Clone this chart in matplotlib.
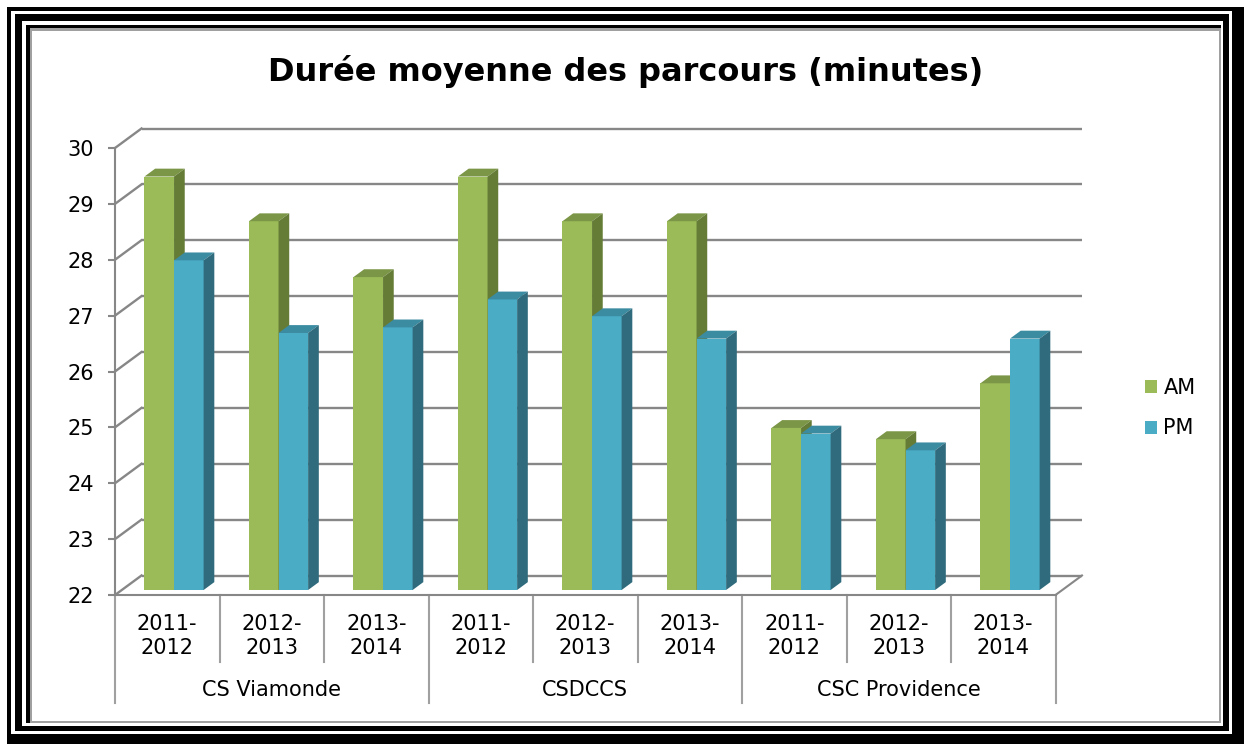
import matplotlib
matplotlib.use("Agg")
import matplotlib.pyplot as plt
from matplotlib.patches import Rectangle, Polygon, Patch

# ---------------- data ----------------
groups = ["CS Viamonde", "CSDCCS", "CSC Providence"]
years = ["2011-\n2012", "2012-\n2013", "2013-\n2014"]
am_values = [29.4, 28.6, 27.6, 29.4, 28.6, 28.6, 24.9, 24.7, 25.7]
pm_values = [27.9, 26.6, 26.7, 27.2, 26.9, 26.5, 24.8, 24.5, 26.5]
series_names = ["AM", "PM"]
y_ticks = [22, 23, 24, 25, 26, 27, 28, 29, 30]
title = "Durée moyenne des parcours (minutes)"

# ---------------- style ----------------
W, H = 1244, 744
plt.rcParams['font.family'] = ['DejaVu Sans']
front_cols = ["#9BBB59", "#4BACC6"]
top_cols = ["#7B9646", "#3B8BA1"]
side_cols = ["#657C37", "#2F6B7C"]
grid_col = "#878787"

fig = plt.figure(figsize=(W / 100, H / 100), dpi=100)
fig.patch.set_facecolor("white")

# ---- decorative frame (pixel coords) ----
def frect(x0, y0, x1, y1, color):
    fig.patches.append(Rectangle((x0 / W, 1 - y1 / H), (x1 - x0) / W, (y1 - y0) / H,
                                 transform=fig.transFigure, facecolor=color,
                                 edgecolor="none", zorder=-10))

frect(7, 7, 1244, 744, "black")
frect(11, 11, 1232, 734, "white")
frect(15, 14, 1229, 731, "black")
frect(22, 21, 1223, 726, "white")
frect(26, 25, 1221, 723, "black")
frect(30, 28, 1221, 723, "#A0A0A0")
frect(32, 31, 1219, 721, "white")

# ---- axes = front plane of the 3D box ----
x0p, x1p, y22p, y30p = 115, 1055.5, 595, 148
ax = fig.add_axes([x0p / W, (H - y22p) / H, (x1p - x0p) / W, (y22p - y30p) / H])
ax.set_zorder(5)
ax.set_facecolor("none")
ncat = len(am_values)
ax.set_xlim(0, ncat)
ax.set_ylim(y_ticks[0], y_ticks[-1])
for s in ["top", "right"]:
    ax.spines[s].set_visible(False)
for s in ["left", "bottom"]:
    ax.spines[s].set_color(grid_col)
    ax.spines[s].set_linewidth(1.5)
ax.set_xticks([])
ax.set_yticks(y_ticks)
ax.tick_params(axis="y", direction="out", length=5, width=1.5, color=grid_col,
               labelsize=15, pad=10, labelcolor="black")

px_per_x = (x1p - x0p) / ncat
px_per_y = (y22p - y30p) / (y_ticks[-1] - y_ticks[0])
Dx = 26.5 / px_per_x      # depth offset in data units
Dy = 19.5 / px_per_y
base = y_ticks[0]

# back wall gridlines + side wall diagonals
for v in y_ticks:
    ax.plot([Dx, ncat + Dx], [v + Dy, v + Dy], color=grid_col, lw=1.7,
            clip_on=False, zorder=1, solid_capstyle="butt")
    ax.plot([0, Dx], [v, v + Dy], color=grid_col, lw=1.7, clip_on=False, zorder=1)
# floor right edge
ax.plot([ncat, ncat + Dx], [base, base + Dy], color=grid_col, lw=1.5, clip_on=False, zorder=1)

# bars
w = 0.283
z0, z1 = 0.256, 0.66
for i in range(ncat):
    for k, vals in enumerate([am_values, pm_values]):
        v = vals[i]
        xl = i + 0.5 - w + k * w
        xr = xl + w
        zo = 3 + i * 2 + k * 0.5
        ax.bar(xl + z0 * Dx, v - base, bottom=base + z0 * Dy, width=w, align="edge",
               color=front_cols[k], edgecolor="none", zorder=zo, clip_on=False)
        top = Polygon([(xl + z0 * Dx, v + z0 * Dy), (xr + z0 * Dx, v + z0 * Dy),
                       (xr + z1 * Dx, v + z1 * Dy), (xl + z1 * Dx, v + z1 * Dy)],
                      closed=True, facecolor=top_cols[k], edgecolor="none",
                      zorder=zo, clip_on=False)
        side = Polygon([(xr + z0 * Dx, base + z0 * Dy), (xr + z1 * Dx, base + z1 * Dy),
                        (xr + z1 * Dx, v + z1 * Dy), (xr + z0 * Dx, v + z0 * Dy)],
                       closed=True, facecolor=side_cols[k], edgecolor="none",
                       zorder=zo, clip_on=False)
        ax.add_patch(top)
        ax.add_patch(side)

# category label table below the floor
d_short = (662 - y22p) / px_per_y
d_long = (703 - y22p) / px_per_y
for i in range(ncat + 1):
    d = d_long if i % len(years) == 0 else d_short
    ax.plot([i, i], [base, base - d], color="#A0A0A0", lw=1.5, clip_on=False, zorder=1)

y_year = base - (636 - y22p) / px_per_y
y_group = base - (690 - y22p) / px_per_y
for i in range(ncat):
    ax.text(i + 0.5, y_year, years[i % len(years)], ha="center", va="center",
            fontsize=15, linespacing=1.2, clip_on=False)
for g, name in enumerate(groups):
    ax.text(g * len(years) + len(years) / 2, y_group, name, ha="center", va="center",
            fontsize=15, clip_on=False)

# title
fig.text(626 / W, 1 - 71 / H, title, ha="center", va="center", fontsize=23,
         fontweight="bold")

# legend
handles = [Patch(facecolor=front_cols[k], edgecolor="none", label=series_names[k])
           for k in range(2)]
fig.legend(handles=handles, loc="center left", bbox_to_anchor=(1145 / W, 1 - 408 / H),
           frameon=False, fontsize=15, handlelength=0.58, handleheight=0.58,
           handletextpad=0.3, labelspacing=1.0, borderpad=0, borderaxespad=0)

fig.savefig("out.png", dpi=100, facecolor="white")
